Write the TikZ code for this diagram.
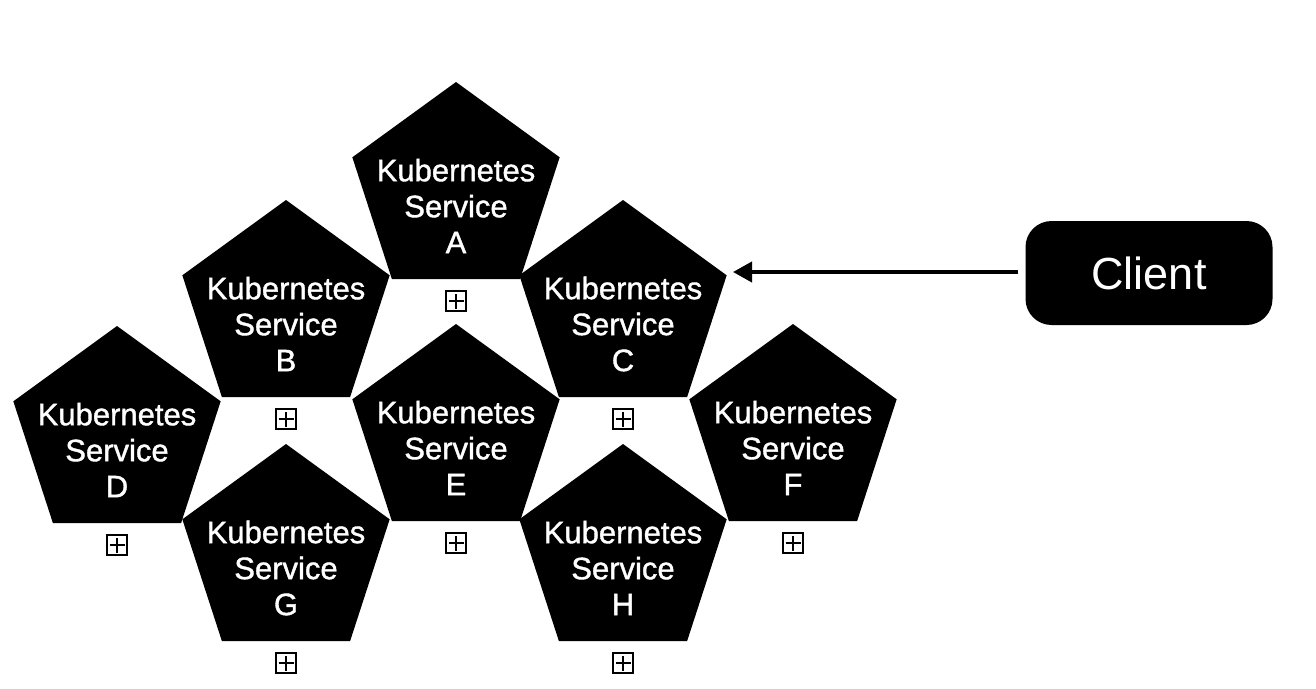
\documentclass[tikz,border=0pt]{standalone}
\usepackage{fontspec}
\setmainfont{Liberation Sans}
\newfontfamily\medfont[FakeBold=1.2]{Liberation Sans}
\usetikzlibrary{shapes.geometric,arrows.meta}
\tikzset{
  penta/.style={regular polygon, regular polygon sides=5, minimum size=218pt, inner sep=0pt, fill=black, draw=none},
  ptext/.style={text=white, align=center, font=\medfont\fontsize{31}{36}\selectfont, inner sep=0pt},
  plusbox/.style={draw=black, line width=1.7pt, minimum size=20pt, inner sep=0pt,
    path picture={\draw[line width=1.7pt] ([yshift=-7.5pt]path picture bounding box.center) -- ([yshift=7.5pt]path picture bounding box.center);
                  \draw[line width=1.7pt] ([xshift=-7.5pt]path picture bounding box.center) -- ([xshift=7.5pt]path picture bounding box.center);}},
  clientbox/.style={fill=black, rounded corners=26pt, minimum width=247pt, minimum height=104pt, text=white, font=\fontsize{45}{54}\selectfont, inner sep=0pt},
}
\begin{document}
\begin{tikzpicture}[x=1pt,y=-1pt]
\useasboundingbox (0,0) rectangle (1316,688);
\foreach \n/\x/\y in {A/456/191, B/286/309, C/623/309, D/117/435, E/456/433, F/793/433, G/286/553, H/623/553}{
  \node[penta] (\n) at (\x,\y) {};
  \node[ptext] (\n t) at (\x,\y+15) {Kubernetes\\Service\\\n};
  \node[plusbox] (\n p) at (\x,\y+110) {};
}
\node[clientbox] (client) at (1149,273) {Client};
\coordinate (tip) at (733,272);
\draw[line width=4pt, -{Triangle[length=19pt,width=20pt]}, shorten <=7pt] (client.west |- tip) -- (tip);
\end{tikzpicture}
\end{document}
